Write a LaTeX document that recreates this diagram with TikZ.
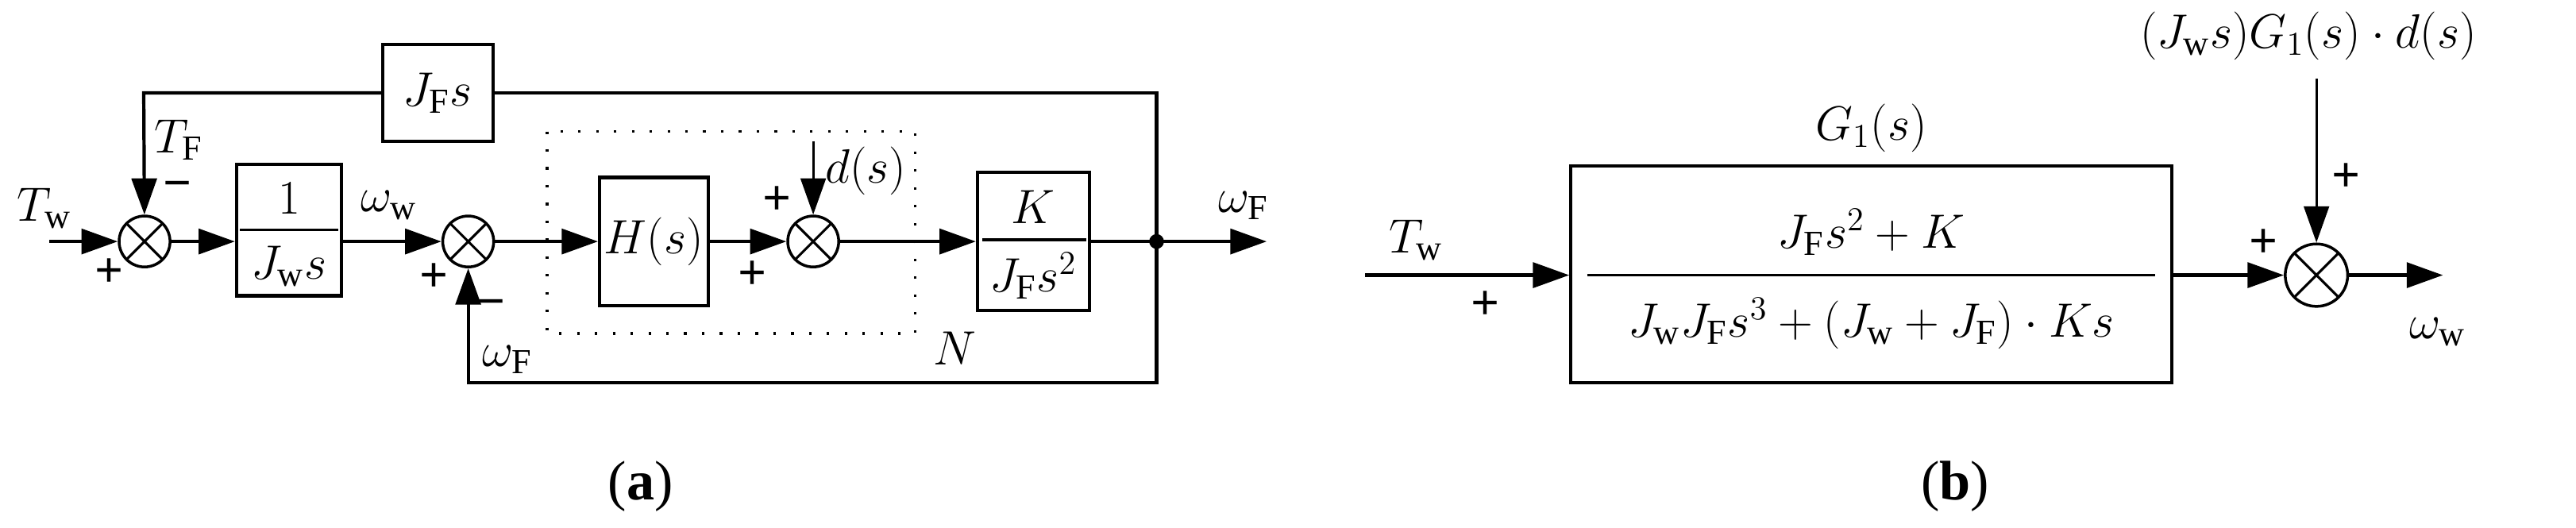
\documentclass[tikz,border=0pt]{standalone}
\usepackage{fontspec}
\setmainfont{Liberation Serif}
\usetikzlibrary{arrows.meta}
\begin{document}
\begin{tikzpicture}[x=0.0207cm,y=-0.0207cm,font=\fontsize{18}{21}\selectfont,
  ln/.style={line width=1.2pt},
  ar/.style={ln,-{Triangle[length=13pt,width=9pt]}},
  blk/.style={draw,line width=1.2pt,inner sep=0pt},
  lab/.style={inner sep=1pt}]
\useasboundingbox (0,0) rectangle (1568,321);
\def\sumcross#1#2{\draw[line width=0.9pt] (#1)++(45:#2)--++(225:2*#2) (#1)++(135:#2)--++(-45:2*#2);}
% ---------- (a)
\coordinate (in) at (30,147);
\node[draw,line width=1pt,circle,minimum size=31*0.0207cm,inner sep=0pt] (s1) at (88,147) {};
\sumcross{s1}{15.5}
\node[blk,minimum width=64*0.0207cm,minimum height=80*0.0207cm] (b1) at (176,140) {};
\draw[line width=0.9pt] (146,140)--(206,140);
\node at (176,121) {$1$};
\node at (176,162) {$J_{\mathrm{w}}s$};
\node[draw,line width=1pt,circle,minimum size=31*0.0207cm,inner sep=0pt] (s2) at (285,147) {};
\sumcross{s2}{15.5}
\node[blk,minimum width=66*0.0207cm,minimum height=78*0.0207cm] (H) at (398,147) {$H(s)$};
\node[draw,line width=1pt,circle,minimum size=31*0.0207cm,inner sep=0pt] (s3) at (495,147) {};
\sumcross{s3}{15.5}
\node[blk,minimum width=68*0.0207cm,minimum height=84*0.0207cm] (K) at (629,147) {};
\draw[line width=0.9pt] (598,146)--(661,146);
\node at (629,126) {$K$};
\node at (629,168) {$J_{\mathrm{F}}s^{2}$};
\node[blk,minimum width=67*0.0207cm,minimum height=59*0.0207cm] (JF) at (266.5,56.5) {$J_{\mathrm{F}}s$};
\coordinate (j) at (704,147);
\fill (j) circle (4.5);
\coordinate (out) at (771,147);
\coordinate (ds) at (495,86);
\coordinate (tr) at (704,56.5);
\coordinate (tl) at (87.5,56.5);
\coordinate (br) at (704,233);
\coordinate (bl) at (285,233);
\draw[ar] (in)--(s1);
\draw[ar] (s1)--(b1.west|-s1);
\draw[ar] (b1.east|-s2)--(s2);
\draw[ar] (s2)--(H);
\draw[ar] (H)--(s3);
\draw[ar] (s3)--(K.west|-s3);
\draw[ln] (K.east|-j)--(j);
\draw[ar] (j)--(out);
\draw[ln] (j)--(tr)--(JF);
\draw[ar] (JF)--(tl)--(s1);
\draw[ar] (j)--(br)--(bl)--(s2);
\draw[ar,line width=0.9pt] (ds)--(s3);
\draw[line width=0.9pt,dash pattern=on 0.9pt off 5.5pt] (333,80) rectangle (557,203);
\node[lab] at (27,127) {$T_{\mathrm{w}}$};
\node[lab] at (66.5,166) {\bfseries +};
\node[lab] at (109,85) {$T_{\mathrm{F}}$};
\node[lab] at (108,116) {\bfseries −};
\node[lab] at (237,125) {$\omega_{\mathrm{w}}$};
\node[lab] at (264,169) {\bfseries +};
\node[lab] at (299,188) {\bfseries −};
\node[lab] at (309,219) {$\omega_{\mathrm{F}}$};
\node[lab] at (473,122) {\bfseries +};
\node[lab] at (458,167.5) {\bfseries +};
\node[lab] at (527,104) {$d(s)$};
\node[lab] at (581,212) {$N$};
\node[lab] at (757,125) {$\omega_{\mathrm{F}}$};
% ---------- (b)
\coordinate (bin) at (831,167.5);
\node[blk,line width=1pt,minimum width=366*0.0207cm,minimum height=132*0.0207cm] (G) at (1139,167) {};
\draw[line width=0.9pt] (966,167.5)--(1312,167.5);
\node at (1139,141.5) {$J_{\mathrm{F}}s^{2}+K$};
\node at (1139,197) {$J_{\mathrm{w}}J_{\mathrm{F}}s^{3}+(J_{\mathrm{w}}+J_{\mathrm{F}})\cdot Ks$};
\node[lab] at (1139,78) {$G_{1}(s)$};
\node[draw,line width=1pt,circle,minimum size=38*0.0207cm,inner sep=0pt] (s4) at (1410,167.5) {};
\sumcross{s4}{19}
\coordinate (bout) at (1487,167.5);
\coordinate (btop) at (1410,48);
\draw[ar] (bin)--(G.west|-bin);
\draw[ar] (G.east|-s4)--(s4);
\draw[ar] (s4)--(bout);
\draw[ar,line width=0.9pt] (btop)--(s4);
\node[lab] at (862,146) {$T_{\mathrm{w}}$};
\node[lab] at (904,186) {\bfseries +};
\node[lab] at (1378,148) {\bfseries +};
\node[lab] at (1428,108) {\bfseries +};
\node[lab] at (1484,202) {$\omega_{\mathrm{w}}$};
\node[lab] at (1405,22) {$(J_{\mathrm{w}}s)G_{1}(s)\cdot d(s)$};
% captions
\node[font=\fontsize{20}{24}\selectfont] at (390,296) {(\textbf{a})};
\node[font=\fontsize{20}{24}\selectfont] at (1190,296) {(\textbf{b})};
\end{tikzpicture}
\end{document}
